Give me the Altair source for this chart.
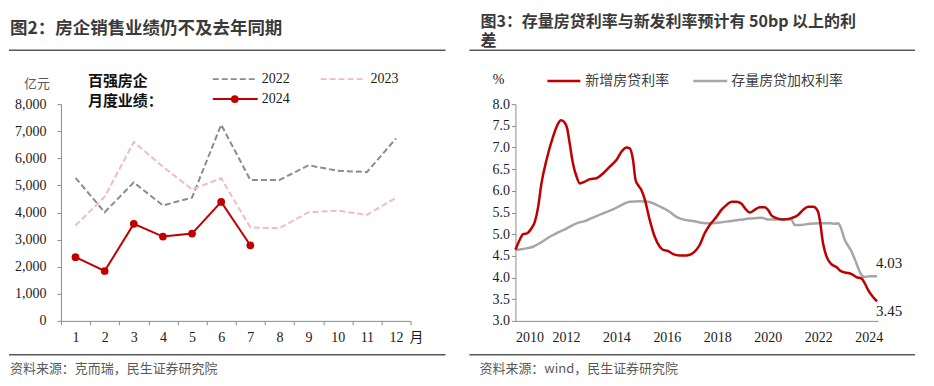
import altair as alt
import pandas as pd

# ---------------- data ----------------
months = list(range(1, 13))
sales_2022 = [5280, 4010, 5110, 4260, 4550, 7240, 5200, 5200, 5740, 5540, 5490, 6730]
sales_2023 = [3520, 4580, 6600, 5690, 4850, 5260, 3450, 3420, 4010, 4070, 3910, 4540]
sales_2024 = [2350, 1840, 3580, 3110, 3220, 4390, 2790]

new_rate_year = [2010.0, 2010.17, 2010.3, 2010.46, 2010.63, 2010.77, 2010.9, 2011.03, 2011.23,
                 2011.49, 2011.69, 2011.8, 2011.93, 2012.05, 2012.15, 2012.28, 2012.42, 2012.55,
                 2012.75, 2012.95, 2013.21, 2013.47, 2013.74, 2014.0, 2014.2, 2014.4, 2014.53,
                 2014.66, 2014.76, 2014.86, 2014.99, 2015.13, 2015.32, 2015.52, 2015.72, 2015.85,
                 2016.05, 2016.25, 2016.51, 2016.78, 2016.97, 2017.17, 2017.3, 2017.5, 2017.7,
                 2017.97, 2018.16, 2018.36, 2018.56, 2018.76, 2018.96, 2019.15, 2019.29, 2019.48,
                 2019.68, 2019.88, 2020.01, 2020.15, 2020.34, 2020.61, 2020.94, 2021.2, 2021.4,
                 2021.6, 2021.8, 2021.99, 2022.06, 2022.19, 2022.33, 2022.52, 2022.72, 2022.92,
                 2023.12, 2023.32, 2023.51, 2023.71, 2023.84, 2023.98, 2024.17, 2024.33]
new_rate_val = [4.64, 4.87, 5.0, 5.02, 5.13, 5.29, 5.63, 6.17, 6.71,
                7.25, 7.55, 7.63, 7.59, 7.44, 7.09, 6.63, 6.33, 6.17,
                6.21, 6.27, 6.29, 6.40, 6.56, 6.71, 6.90, 7.0, 6.98,
                6.71, 6.25, 6.13, 6.02, 5.79, 5.33, 4.94, 4.71, 4.64,
                4.61, 4.54, 4.51, 4.51, 4.54, 4.64, 4.75, 5.02, 5.21,
                5.40, 5.56, 5.67, 5.75, 5.75, 5.70, 5.56, 5.50, 5.56,
                5.62, 5.62, 5.56, 5.43, 5.37, 5.34, 5.37, 5.44, 5.56,
                5.63, 5.63, 5.52, 5.33, 4.79, 4.48, 4.31, 4.24, 4.14,
                4.11, 4.08, 4.01, 3.98, 3.87, 3.71, 3.55, 3.45]

stock_rate_year = [2010.0, 2010.3, 2010.7, 2010.96, 2011.36, 2011.76, 2012.02, 2012.42, 2012.75,
                   2013.14, 2013.47, 2013.87, 2014.2, 2014.53, 2014.93, 2015.26, 2015.65, 2016.05,
                   2016.38, 2016.71, 2016.97, 2017.3, 2017.7, 2018.1, 2018.49, 2018.89, 2019.29,
                   2019.75, 2020.01, 2020.34, 2020.81, 2020.94, 2021.07, 2021.27, 2021.66, 2022.06,
                   2022.46, 2022.66, 2022.79, 2022.88, 2023.05, 2023.32, 2023.51, 2023.67, 2023.84,
                   2024.04, 2024.33]
stock_rate_val = [4.64, 4.66, 4.71, 4.79, 4.94, 5.06, 5.13, 5.25, 5.30,
                  5.40, 5.48, 5.57, 5.67, 5.75, 5.76, 5.75, 5.66, 5.54,
                  5.40, 5.33, 5.31, 5.27, 5.25, 5.27, 5.30, 5.33, 5.36,
                  5.38, 5.34, 5.34, 5.34, 5.33, 5.21, 5.21, 5.24, 5.25,
                  5.25, 5.24, 5.25, 5.17, 4.87, 4.60, 4.33, 4.10, 4.01,
                  4.03, 4.03]

year_ticks = [2010, 2012, 2014, 2016, 2018, 2020, 2022, 2024]

# ---------------- styles ----------------
CJK = "Noto Sans CJK SC"
SERIF = "Liberation Serif"
RED = "#c00000"
GRAY22 = "#8c8c8c"
PINK23 = "#f2bcbc"
GRAY_STOCK = "#a6a6a6"
AXIS_C = "#8c8c8c"
TXT = "#404040"

W1, W2, H = 350, 363, 217

one = pd.DataFrame({"a": [0]})


def txt(text, x, y, size=13, font=CJK, weight="normal", color=TXT, align="left",
        baseline="middle", line_height=None):
    kw = dict(text=text, font=font, fontSize=size, fontWeight=weight,
              color=color, align=align, baseline=baseline)
    if line_height:
        kw["lineHeight"] = line_height
    return alt.Chart(one).mark_text(**kw).encode(x=alt.value(x), y=alt.value(y))


def hrule(x1, x2, y, color="#595959", width=1.5, dash=None):
    kw = dict(color=color, strokeWidth=width)
    if dash:
        kw["strokeDash"] = dash
    return alt.Chart(one).mark_rule(**kw).encode(x=alt.value(x1), x2=alt.value(x2), y=alt.value(y))


# ---------------- left panel ----------------
d22 = pd.DataFrame({"month": months, "value": sales_2022})
d23 = pd.DataFrame({"month": months, "value": sales_2023})
d24 = pd.DataFrame({"month": months[:len(sales_2024)], "value": sales_2024})

xL = alt.X("month:O", scale=alt.Scale(type="band", domain=months, paddingInner=0, paddingOuter=0),
           axis=alt.Axis(title=None, labelAngle=0, tickBand="extent", tickSize=4, labelPadding=6,
                         labelFont=SERIF, labelFontSize=14, labelColor="#1a1a1a",
                         domainColor=AXIS_C, tickColor=AXIS_C))
yL = alt.Y("value:Q", scale=alt.Scale(domain=[0, 8000], nice=False),
           axis=alt.Axis(title=None, values=list(range(0, 8001, 1000)), format=",.0f", grid=False,
                         tickSize=4, labelPadding=11, labelFont=SERIF, labelFontSize=14,
                         labelColor="#1a1a1a", domainColor=AXIS_C, tickColor=AXIS_C))

l22 = alt.Chart(d22).mark_line(color=GRAY22, strokeWidth=2, strokeDash=[6, 3]).encode(x=xL, y=yL)
l23 = alt.Chart(d23).mark_line(color=PINK23, strokeWidth=2, strokeDash=[6, 3]).encode(x=xL, y=yL)
l24 = alt.Chart(d24).mark_line(color=RED, strokeWidth=2,
                               point=alt.OverlayMarkDef(size=60, filled=True, color=RED, opacity=1)
                               ).encode(x=xL, y=yL)

anchor = alt.Chart(one).mark_rect(opacity=0).encode(
    x=alt.value(-52), x2=alt.value(866), y=alt.value(-96), y2=alt.value(274))

left = alt.layer(
    anchor,
    txt("图2：房企销售业绩仍不及去年同期", -51, -75, size=17.5, weight="bold", color="#3a3a3a"),
    hrule(-52, 385, -54),
    hrule(-52, 385, 251),
    txt("资料来源：克而瑞，民生证券研究院", -51, 265, size=13, color="#595959"),
    txt("亿元", -24, -20, size=13, align="center", color="#595959"),
    txt(["百强房企", "月度业绩："], 27, -30, size=15, color="#111111", weight="bold",
        baseline="top", line_height=20),
    hrule(152, 197, -25, color=GRAY22, width=2, dash=[6, 3]),
    txt("2022", 201, -25, size=14, font=SERIF, color="#1a1a1a"),
    hrule(260, 305, -25, color=PINK23, width=2, dash=[6, 3]),
    txt("2023", 310, -25, size=14, font=SERIF, color="#1a1a1a"),
    hrule(152, 197, -5, color=RED, width=2),
    alt.Chart(one).mark_point(filled=True, size=60, color=RED, opacity=1).encode(
        x=alt.value(174), y=alt.value(-5)),
    txt("2024", 201, -5, size=14, font=SERIF, color="#1a1a1a"),
    txt("月", 356, 234, size=14, align="center", color="#1a1a1a"),
    l22, l23, l24,
).properties(width=W1, height=H)

# ---------------- right panel ----------------
dnew = pd.DataFrame({"year": new_rate_year, "rate": new_rate_val})
dstock = pd.DataFrame({"year": stock_rate_year, "rate": stock_rate_val})

xR = alt.X("year:Q", scale=alt.Scale(domain=[2010, 2024.37], nice=False, zero=False),
           axis=alt.Axis(title=None, values=year_ticks, format="d", ticks=False, labelPadding=10,
                         labelFont=SERIF, labelFontSize=14, labelColor="#1a1a1a",
                         domainColor=AXIS_C, grid=False))
yR = alt.Y("rate:Q", scale=alt.Scale(domain=[3, 8], nice=False, zero=False),
           axis=alt.Axis(title=None, values=[3 + 0.5 * i for i in range(11)], format=".1f",
                         grid=False, tickSize=4, labelPadding=2, labelFont=SERIF, labelFontSize=14,
                         labelColor="#1a1a1a", domainColor=AXIS_C, tickColor=AXIS_C))

lstock = alt.Chart(dstock).mark_line(color=GRAY_STOCK, strokeWidth=2.5, interpolate="monotone").encode(x=xR, y=yR)
lnew = alt.Chart(dnew).mark_line(color=RED, strokeWidth=2.5, interpolate="monotone").encode(x=xR, y=yR)

last_new = dnew.tail(1)
last_stock = dstock.tail(1)
ann_new = alt.Chart(last_new).mark_text(font=SERIF, fontSize=15, color="#1a1a1a", dx=12, dy=10,
                                        baseline="middle").encode(
    x=xR, y=yR, text=alt.Text("rate:Q", format=".2f"))
ann_stock = alt.Chart(last_stock).mark_text(font=SERIF, fontSize=15, color="#1a1a1a", dx=12, dy=-13,
                                            baseline="middle").encode(
    x=xR, y=yR, text=alt.Text("rate:Q", format=".2f"))

right = alt.layer(
    txt(["图3：存量房贷利率与新发利率预计有 50bp 以上的利", "差"], -35, -77, size=16,
        weight="bold", color="#3a3a3a", baseline="alphabetic", line_height=19),
    hrule(-46, 400, -54),
    hrule(-46, 400, 251),
    txt("资料来源：wind，民生证券研究院", -36, 265, size=13, color="#595959"),
    txt("%", -17, -24, size=14, font=SERIF, align="center", color="#1a1a1a"),
    hrule(32, 65, -23, color=RED, width=2.5),
    txt("新增房贷利率", 70, -23, size=14, color=TXT),
    hrule(178, 212, -23, color=GRAY_STOCK, width=2.5),
    txt("存量房贷加权利率", 216, -23, size=14, color=TXT),
    lstock, lnew, ann_new, ann_stock,
).properties(width=W2, height=H)

chart = alt.hconcat(left, right, spacing=105, bounds="flush").properties(
    padding=0, background="white"
).configure_view(stroke=None)

chart.save("out.html", embed_options={"renderer": "svg", "actions": False})
